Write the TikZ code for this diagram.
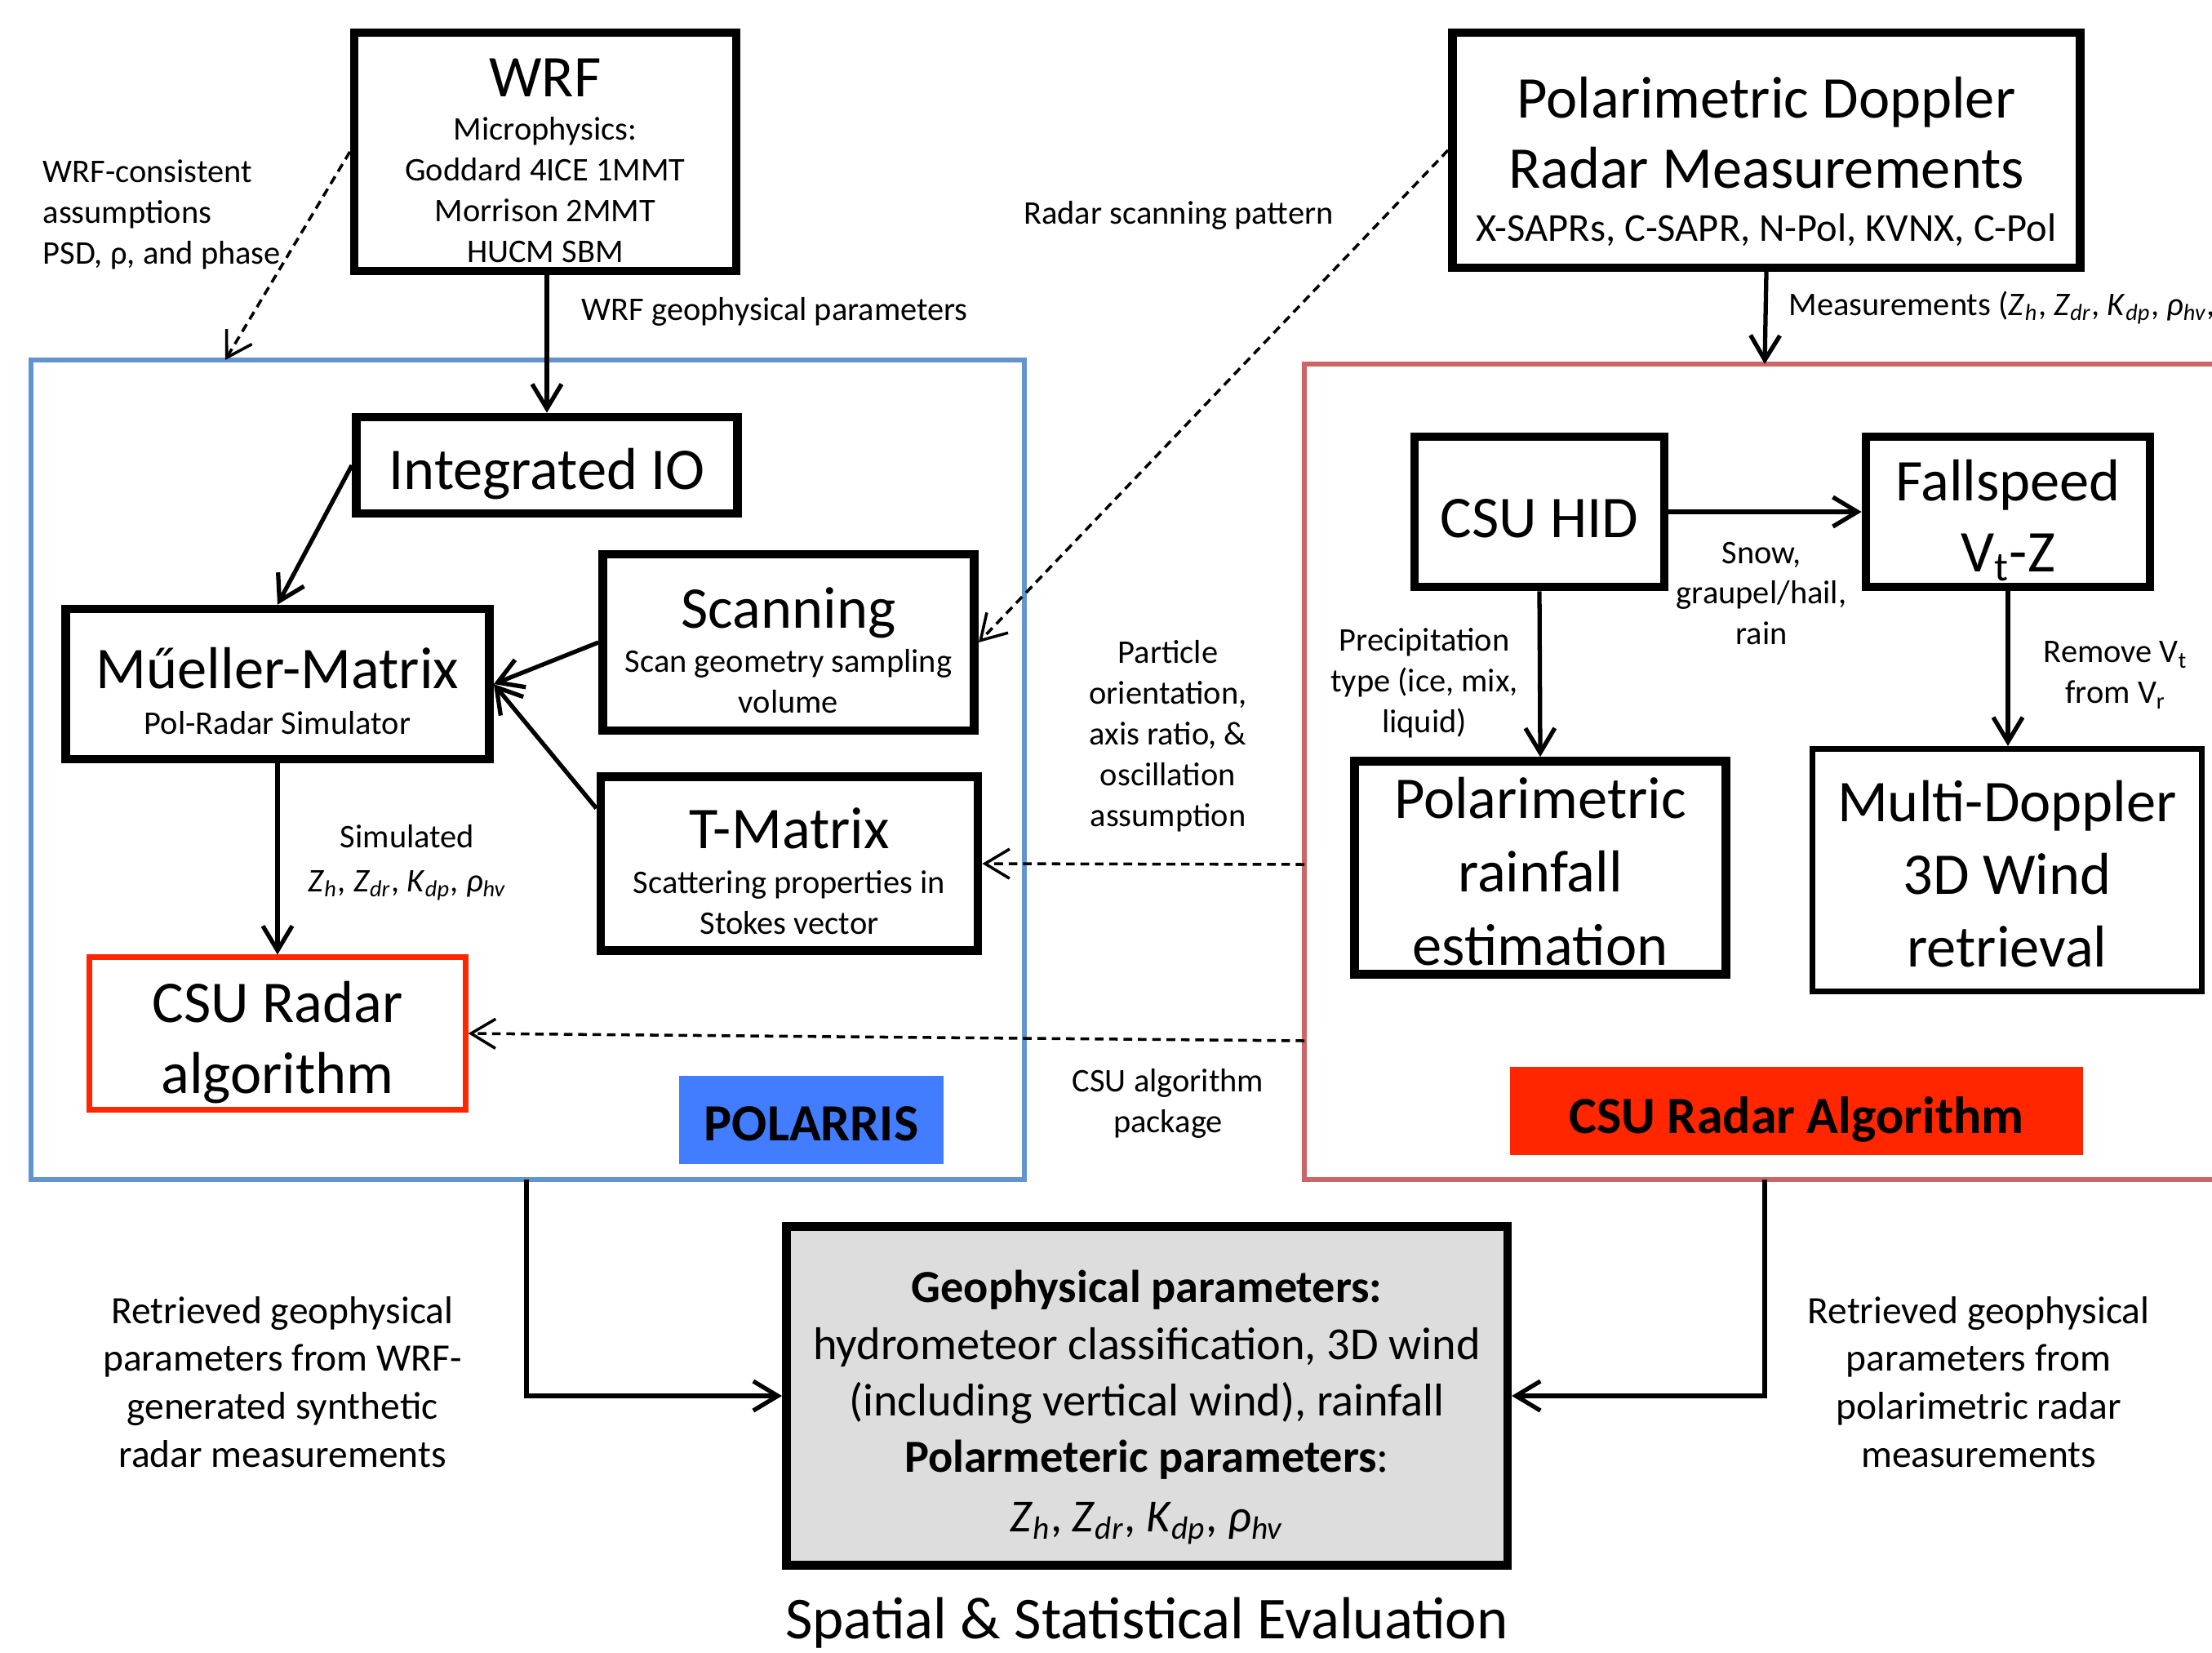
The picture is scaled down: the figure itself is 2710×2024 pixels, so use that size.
\documentclass[tikz,border=0pt]{standalone}
\usepackage{fontspec}
\setmainfont{Carlito}
\usetikzlibrary{arrows.meta,positioning}

\definecolor{polblue}{RGB}{98,148,206}
\definecolor{polfill}{RGB}{66,125,255}
\definecolor{csured}{RGB}{204,102,102}
\definecolor{csufill}{RGB}{255,38,0}
\definecolor{evalgray}{RGB}{221,221,221}

\newcommand{\fsbig}{\fontsize{20.6}{24.6}\selectfont}
\newcommand{\fssmall}{\fontsize{11.5}{14.2}\selectfont}
\newcommand{\fsret}{\fontsize{13.5}{16.7}\selectfont}
\newcommand{\vsym}[2]{\textit{#1}\textsubscript{\textit{#2}}}
% strut that sets the height of a node's first line
\newcommand{\tstrut}[1]{\rule{0pt}{#1}}

\begin{document}
\begin{tikzpicture}[x=0.01cm, y=-0.01cm, every node/.style={font=\fssmall},
  box/.style={draw, line width=3pt, fill=white, align=center, inner sep=0pt},
  thinbox/.style={box, line width=2pt},
  tag/.style={inner sep=0pt, font=\fontsize{18.2}{21}\selectfont\bfseries},
  lbl/.style={align=center, inner sep=0pt},
  arr/.style={-{Straight Barb[length=3mm, width=3.6mm]}, line width=1.5pt},
  dasharr/.style={arr, line width=1pt, dash pattern=on 3pt off 2pt}]
\clip (0,0) rectangle (2710,2024);

% the two frames
\draw[polblue, line width=1.5pt] (38,441) rectangle (1255,1445);
\draw[csured, line width=1.5pt] (1598,446) rectangle (2760,1445);

% top sources
\node[box, minimum width=4.68cm, minimum height=2.92cm] (wrf) at (668,186)
  {{\fsbig\tstrut{19.4pt}WRF}\\[1.1pt] Microphysics:\\ Goddard 4ICE 1MMT\\ Morrison 2MMT\\ HUCM SBM};
\node[box, font=\fsbig, minimum width=7.69cm, minimum height=2.88cm] (pdr) at (2164,184)
  {\tstrut{22.2pt}Polarimetric Doppler\\ Radar Measurements\\[-6.1pt] {\fontsize{13.8}{16}\selectfont X-SAPRs, C-SAPR, N-Pol, KVNX, C-Pol}};

% POLARRIS part
\node[box, font=\fsbig, minimum width=4.67cm, minimum height=1.18cm] (io) at (670,570) {\tstrut{20.2pt}Integrated IO};
\node[box, minimum width=5.19cm, minimum height=1.84cm] (mm) at (340,838)
  {{\fsbig\tstrut{19.2pt}Műeller-Matrix}\\[1.6pt] Pol-Radar Simulator};
\node[box, minimum width=4.55cm, minimum height=2.16cm] (scan) at (966,787)
  {{\fsbig\tstrut{19.6pt}Scanning}\\[1pt] Scan geometry sampling\\ volume};
\node[box, minimum width=4.62cm, minimum height=2.13cm] (tmat) at (967,1058)
  {{\fsbig\tstrut{19.3pt}T-Matrix}\\[1.5pt] Scattering properties in\\ Stokes vector};
\node[box, draw=csufill, line width=2pt, font=\fsbig, minimum width=4.6cm, minimum height=1.86cm] (csualg) at (340,1266)
  {\tstrut{20.5pt}CSU Radar\\ algorithm};
\node[tag, fill=polfill, minimum width=3.23cm, minimum height=1.08cm] (polarris) at (994,1372) {\tstrut{14.7pt}POLARRIS};

% CSU part
\node[box, font=\fsbig, minimum width=3.06cm, minimum height=1.84cm] (hid) at (1886,627) {\tstrut{18.3pt}CSU HID};
\node[box, font=\fsbig, minimum width=3.48cm, minimum height=1.84cm] (fall) at (2460,627)
  {\tstrut{20.4pt}Fallspeed\\ V\textsubscript{t}-Z};
\node[box, font=\fontsize{20.6}{25.6}\selectfont, minimum width=4.55cm, minimum height=2.61cm] (rain) at (1887,1063)
  {\tstrut{17pt}Polarimetric\\ rainfall\\ estimation};
\node[thinbox, font=\fontsize{20.6}{25.3}\selectfont, minimum width=4.77cm, minimum height=2.97cm] (mdop) at (2459,1066)
  {\tstrut{16.8pt}Multi-Doppler\\ 3D Wind\\ retrieval};
\node[tag, fill=csufill, minimum width=7.01cm, minimum height=1.07cm] (csutag) at (2201,1361) {\tstrut{18.5pt}CSU Radar Algorithm};

% evaluation
\node[box, fill=evalgray, font=\fontsize{16}{19.7}\selectfont, minimum width=8.83cm, minimum height=4.15cm] (geo) at (1405,1710)
  {\tstrut{19.3pt}\textbf{Geophysical parameters:}\\ hydrometeor classification, 3D wind\\ (including vertical wind), rainfall\\
   \textbf{Polarmeteric parameters}:\\[1pt] \vsym{Z}{h}, \vsym{Z}{dr}, \vsym{K}{dp}, \vsym{ρ}{hv}};
\node[lbl, font=\fontsize{20.7}{24}\selectfont] (spatial) at (1405,1988) {Spatial \& Statistical Evaluation};

% free ends on the frames
\coordinate (polin) at (276,441);
\coordinate (csuin) at (2162,446);
\coordinate (polout) at (645,1445);
\coordinate (csuout) at (2162,1445);
\coordinate (csupart) at (1598,1059);
\coordinate (csupack) at (1598,1275);

% solid connectors
\draw[arr] (io.north |- wrf.south) -- (io.north);
\draw[arr] (pdr.south |- csuin) ++(0,-113) -- (csuin);
\draw[arr] (io.west) -- (mm.north);
\draw[arr] (scan.west) -- (mm.east);
\draw[arr] (tmat.164) -- (mm.east);
\draw[arr] (mm.south) -- (csualg.north);
\draw[arr] (hid.east) -- (fall.west);
\draw[arr] (hid.south) -- (rain.north);
\draw[arr] (fall.south) -- (fall.south |- mdop.north);
\draw[arr] (polout) |- (geo.west);
\draw[arr] (csuout) |- (geo.east);

% dashed connectors
\draw[dasharr] (wrf.west) -- (polin);
\draw[dasharr] (pdr.west) -- (scan.east);
\draw[dasharr] (csupart) -- (tmat.east);
\draw[dasharr] (csupack) -- (csualg.east);

% labels
\node[lbl, anchor=west] (wrfgeo) at (712,382) {WRF geophysical parameters};
\node[lbl, anchor=west, align=left] (wrfass) at (52,263) {WRF-consistent\\ assumptions\\ PSD, ρ, and phase};
\node[lbl] (scanpat) at (1444,264) {Radar scanning pattern};
\node[lbl, anchor=west] (meas) at (2191,377)
  {Measurements (\vsym{Z}{h}, \vsym{Z}{dr}, \vsym{K}{dp}, \vsym{ρ}{hv}, \vsym{V}{r})};
\node[lbl] (simul) at (499,1057) {Simulated\\[1pt] \vsym{Z}{h}, \vsym{Z}{dr}, \vsym{K}{dp}, \vsym{ρ}{hv}};
\node[lbl] (partic) at (1431,902) {Particle\\ orientation,\\ axis ratio, \&\\ oscillation\\ assumption};
\node[lbl] (csupk) at (1431,1352) {CSU algorithm\\ package};
\node[lbl] (snow) at (2158,727) {Snow,\\ graupel/hail,\\ rain};
\node[lbl] (precip) at (1745,837) {Precipitation\\ type (ice, mix,\\ liquid)};
\node[lbl] (remove) at (2592,827) {Remove V\textsubscript{t}\\ from V\textsubscript{r}};
\node[lbl, font=\fsret] (retl) at (346,1693) {Retrieved geophysical\\ parameters from WRF-\\ generated synthetic\\ radar measurements};
\node[lbl, font=\fsret] (retr) at (2424,1693) {Retrieved geophysical\\ parameters from\\ polarimetric radar\\ measurements};
\end{tikzpicture}
\end{document}
